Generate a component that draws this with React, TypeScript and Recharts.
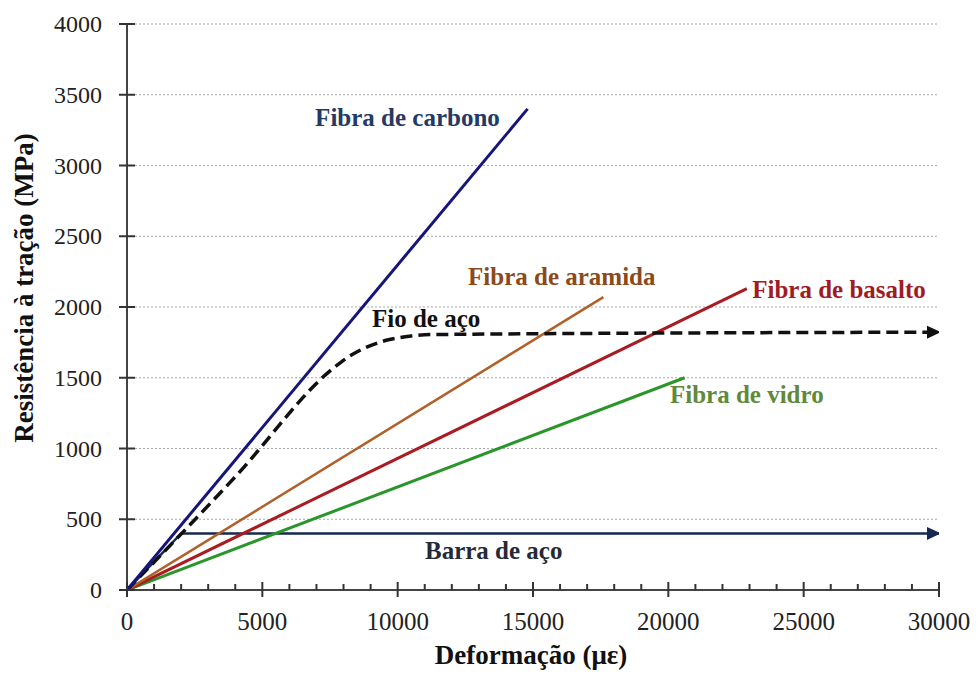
import React from "react";
import {
  LineChart,
  Line,
  XAxis,
  YAxis,
  CartesianGrid,
  ReferenceDot,
} from "recharts";

// ---- data (strain in µε, stress in MPa) ----
const carbonStrain = [0, 14800];
const carbonStress = [0, 3400];

const aramidStrain = [0, 17600];
const aramidStress = [0, 2070];

const basaltStrain = [0, 22900];
const basaltStress = [0, 2130];

const glassStrain = [0, 20600];
const glassStress = [0, 1500];

const wireStrain = [0, 4000, 7700, 8200, 8900, 9700, 10500, 11200, 30000];
const wireStress = [0, 800, 1580, 1650, 1720, 1770, 1795, 1805, 1822];

const barStrain = [0, 2000, 30000];
const barStress = [0, 400, 400];

const strainTicks = [
  0, 1000, 2000, 3000, 4000, 5000, 6000, 7000, 8000, 9000, 10000, 11000,
  12000, 13000, 14000, 15000, 16000, 17000, 18000, 19000, 20000, 21000,
  22000, 23000, 24000, 25000, 26000, 27000, 28000, 29000, 30000,
];
const stressTicks = [0, 500, 1000, 1500, 2000, 2500, 3000, 3500, 4000];

const labelNames = [
  "Fibra de carbono",
  "Fibra de aramida",
  "Fio de aço",
  "Fibra de basalto",
  "Fibra de vidro",
  "Barra de aço",
];
const labelStrain = [6950, 12600, 9050, 23100, 20060, 11010];
const labelStress = [3336, 2219, 1922, 2127, 1385, 276];
const labelColors = ["#243a64", "#8b4a1c", "#111111", "#a01c24", "#5f8a3a", "#262a36"];

const toPts = (xs: number[], ys: number[]) => xs.map((x, i) => ({ x, y: ys[i] }));

const carbonData = toPts(carbonStrain, carbonStress);
const aramidData = toPts(aramidStrain, aramidStress);
const basaltData = toPts(basaltStrain, basaltStress);
const glassData = toPts(glassStrain, glassStress);
const wireData = toPts(wireStrain, wireStress);
const barData = toPts(barStrain, barStress);

const FONT = "Liberation Serif";
const fontStyle = { fontFamily: "'Liberation Serif', serif" };

const XTick = (props: any) => {
  const { x, y, payload } = props;
  const v = payload.value as number;
  const major = v % 5000 === 0;
  return (
    <g>
      <line
        x1={x}
        x2={x}
        y1={major ? y - 8 : y - 6}
        y2={major ? y + 7 : y}
        stroke="#333"
        strokeWidth={2}
      />
      {major && (
        <text
          x={x}
          y={y + 40}
          textAnchor="middle"
          fontFamily={FONT}
          style={fontStyle}
          fontSize={25}
          fill="#222"
        >
          {v}
        </text>
      )}
    </g>
  );
};

const YTick = (props: any) => {
  const { x, y, payload } = props;
  return (
    <g>
      <line x1={x - 8} x2={x + 8} y1={y} y2={y} stroke="#333" strokeWidth={2} />
      <text
        x={x - 25}
        y={y + 8}
        textAnchor="end"
        fontFamily={FONT}
        style={fontStyle}
        fontSize={24}
        fill="#222"
      >
        {payload.value}
      </text>
    </g>
  );
};

const makeArrow = (lastIndex: number, color: string) => (p: any) => {
  if (p.index !== lastIndex) return <g key={`d-${p.index}`} />;
  const { cx, cy } = p;
  return (
    <path
      key={`d-${p.index}`}
      d={`M${cx - 12},${cy - 6.5} L${cx + 2},${cy} L${cx - 12},${cy + 6.5} Z`}
      fill={color}
      stroke="none"
    />
  );
};

export default function App() {
  return (
    <div style={{ width: 979, height: 676, background: "#fff" }}>
      <style>{"body{margin:0;background:#fff}"}</style>
      <LineChart
        width={979}
        height={676}
        margin={{ top: 24, right: 40, bottom: 0, left: 0 }}
      >
        <CartesianGrid
          vertical={false}
          stroke="#a8a8a8"
          strokeDasharray="2 2"
          strokeWidth={1}
        />
        <XAxis
          type="number"
          dataKey="x"
          domain={[0, 30000]}
          ticks={strainTicks}
          interval={0}
          height={86}
          tickSize={0}
          tickMargin={0}
          tickLine={false}
          axisLine={{ stroke: "#444", strokeWidth: 2 }}
          tick={<XTick />}
          allowDataOverflow
          label={{
            content: (p: any) => {
              const vb = p.viewBox;
              return (
                <text
                  x={vb.x + vb.width / 2 - 2}
                  y={vb.y + 74}
                  textAnchor="middle"
                  fontFamily={FONT}
                  style={fontStyle}
                  fontWeight="bold"
                  fontSize={27}
                  fill="#111"
                >
                  Deformação (με)
                </text>
              );
            },
          }}
        />
        <YAxis
          type="number"
          domain={[0, 4000]}
          ticks={stressTicks}
          interval={0}
          width={127}
          tickSize={0}
          tickMargin={0}
          tickLine={false}
          axisLine={{ stroke: "#444", strokeWidth: 2 }}
          tick={<YTick />}
          allowDataOverflow
          label={{
            content: () => (
              <text
                x={33}
                y={288}
                transform="rotate(-90 33 288)"
                textAnchor="middle"
                fontFamily={FONT}
                style={fontStyle}
                fontWeight="bold"
                fontSize={27}
                fill="#111"
              >
                Resistência à tração (MPa)
              </text>
            ),
          }}
        />
        <Line
          data={barData}
          dataKey="y"
          type="linear"
          stroke="#142850"
          strokeWidth={2.5}
          dot={makeArrow(barData.length - 1, "#142850")}
          activeDot={false}
          isAnimationActive={false}
        />
        <Line
          data={glassData}
          dataKey="y"
          type="linear"
          stroke="#2a962a"
          strokeWidth={3}
          dot={false}
          activeDot={false}
          isAnimationActive={false}
        />
        <Line
          data={basaltData}
          dataKey="y"
          type="linear"
          stroke="#a81c22"
          strokeWidth={3}
          dot={false}
          activeDot={false}
          isAnimationActive={false}
        />
        <Line
          data={aramidData}
          dataKey="y"
          type="linear"
          stroke="#b0602a"
          strokeWidth={2.5}
          dot={false}
          activeDot={false}
          isAnimationActive={false}
        />
        <Line
          data={wireData}
          dataKey="y"
          type="monotone"
          stroke="#111"
          strokeWidth={3.5}
          strokeDasharray="12 6"
          dot={makeArrow(wireData.length - 1, "#111")}
          activeDot={false}
          isAnimationActive={false}
        />
        <Line
          data={carbonData}
          dataKey="y"
          type="linear"
          stroke="#16167a"
          strokeWidth={3}
          dot={false}
          activeDot={false}
          isAnimationActive={false}
        />
        {labelNames.map((name, i) => (
          <ReferenceDot
            key={name}
            x={labelStrain[i]}
            y={labelStress[i]}
            r={0}
            ifOverflow="visible"
            shape={(p: any) => (
              <text
                x={p.cx}
                y={p.cy}
                dominantBaseline="central"
                textAnchor="start"
                fontFamily={FONT}
                style={fontStyle}
                fontWeight="bold"
                fontSize={25}
                fill={labelColors[i]}
              >
                {name}
              </text>
            )}
          />
        ))}
      </LineChart>
    </div>
  );
}
